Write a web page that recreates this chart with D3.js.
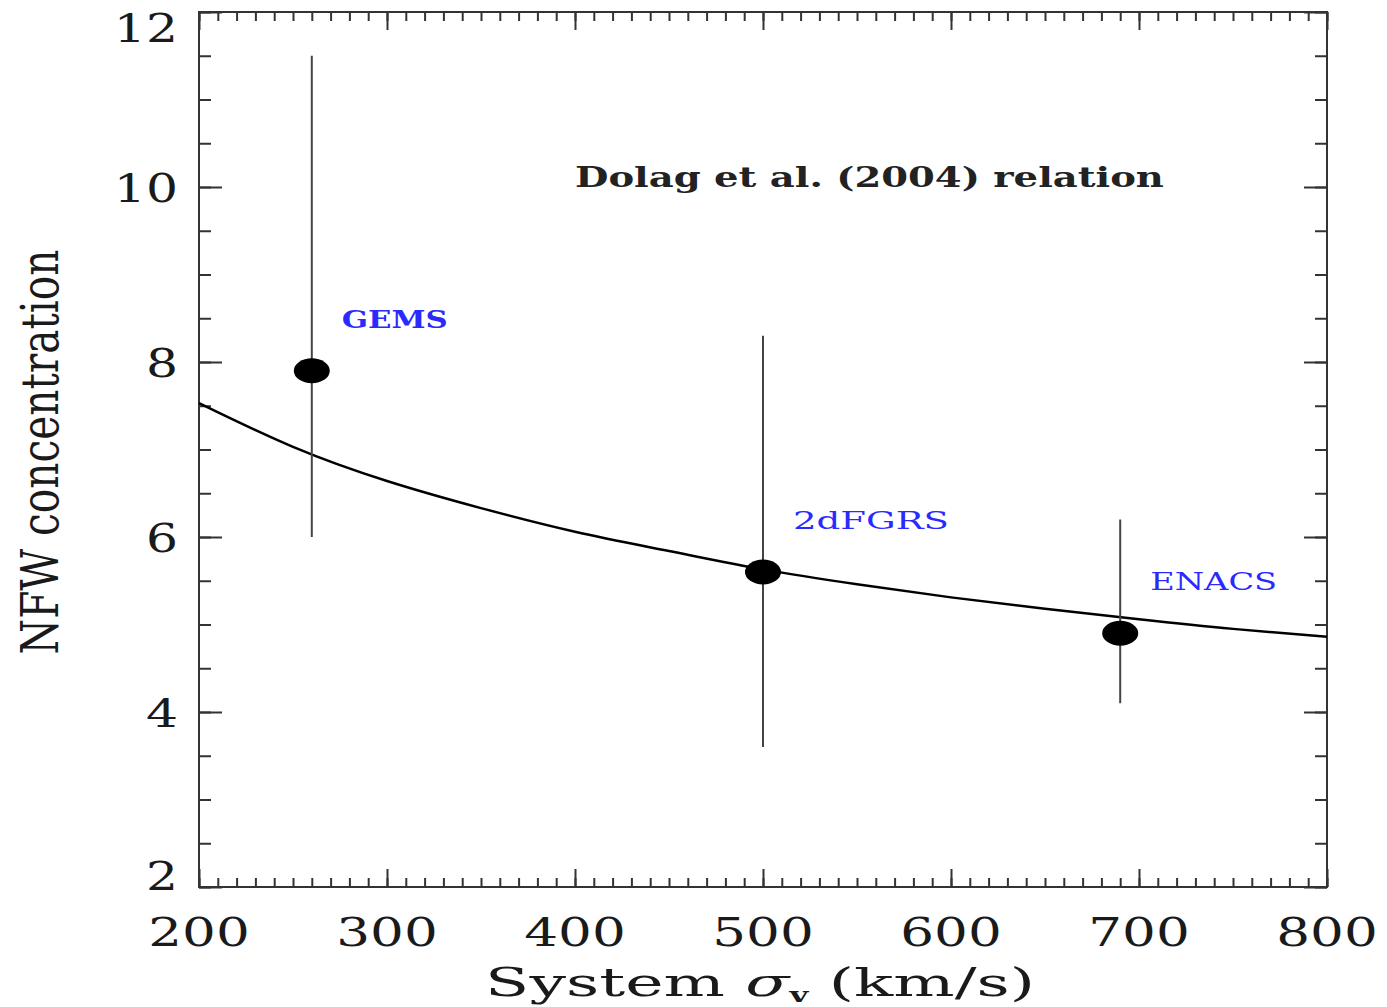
<!DOCTYPE html>
<html>
<head>
<meta charset="utf-8">
<script src="https://cdn.jsdelivr.net/npm/d3@7"></script>
<style>
  body { margin: 0; background: #fff; }
  text { font-family: "DejaVu Serif", serif; }
</style>
</head>
<body>
<svg id="chart" width="1387" height="1007"></svg>
<script>
// survey points with error bars
var surveys = ["GEMS", "2dFGRS", "ENACS"];
var sigma = [260, 500, 690];
var conc = [7.9, 5.6, 4.9];
var concLow = [6.0, 3.6, 4.1];
var concHigh = [11.5, 8.3, 6.2];

// Dolag et al. (2004) relation
var relSigma = [200, 250, 300, 350, 400, 450, 500, 550, 600, 650, 700, 750, 800];
var relConc = [7.53, 7.03, 6.64, 6.33, 6.06, 5.84, 5.63, 5.46, 5.31, 5.18, 5.06, 4.95, 4.86];

var sigmaTicks = [200, 300, 400, 500, 600, 700, 800];
var concTicks = [2, 4, 6, 8, 10, 12];

// note: "top" is taken by window.top
var pLeft = 199, pRight = 1327, pTop = 12, pBottom = 887;

var svg = d3.select("#chart");

var x = d3.scaleLinear()
    .domain([200, 800])
    .range([pLeft, pRight]);

var y = d3.scaleLinear()
    .domain([2, 12])
    .range([pBottom, pTop]);

var minorX = d3.range(200, 801, 10);
var minorY = d3.range(2, 12.01, 0.5);

// ticks on all four sides, pointing inward
function ticks(axis, pos, values, size) {
  svg.append("g")
    .attr("transform", pos)
    .call(axis.tickValues(values).tickSizeInner(size).tickSizeOuter(0).tickFormat(""))
    .call(function(g) { g.select(".domain").remove(); })
    .selectAll("line")
    .attr("stroke", "#333")
    .attr("stroke-width", 2);
}
ticks(d3.axisBottom(x), "translate(0," + pBottom + ")", minorX, -9);
ticks(d3.axisBottom(x), "translate(0," + pBottom + ")", sigmaTicks, -18);
ticks(d3.axisTop(x), "translate(0," + pTop + ")", minorX, -9);
ticks(d3.axisTop(x), "translate(0," + pTop + ")", sigmaTicks, -18);
ticks(d3.axisLeft(y), "translate(" + pLeft + ",0)", minorY, -12);
ticks(d3.axisLeft(y), "translate(" + pLeft + ",0)", concTicks, -23);
ticks(d3.axisRight(y), "translate(" + pRight + ",0)", minorY, -12);
ticks(d3.axisRight(y), "translate(" + pRight + ",0)", concTicks, -23);

svg.append("rect")
    .attr("x", pLeft)
    .attr("y", pTop)
    .attr("width", pRight - pLeft)
    .attr("height", pBottom - pTop)
    .attr("fill", "none")
    .attr("stroke", "#333")
    .attr("stroke-width", 2);

// text stretched sideways like the original
function label(px, py, str, anchor, size, sx, weight, fill) {
  var g = svg.append("g").attr("transform", "translate(" + px + "," + py + ")");
  var t = g.append("text")
      .attr("text-anchor", anchor)
      .attr("transform", "scale(" + sx + ",1)")
      .style("font-size", size + "px")
      .style("font-weight", weight || "normal")
      .attr("fill", fill || "#1a1a1a")
      .text(str);
  return t;
}

sigmaTicks.forEach(function(d) {
  label(x(d), 946, d, "middle", 40, 1.33);
});

concTicks.forEach(function(d) {
  var cy = Math.min(Math.max(y(d), pTop + 15), pBottom - 12);
  label(178, cy + 15, d, "end", 40, 1.26);
});

// x axis title
var xt = svg.append("g").attr("transform", "translate(760,996)")
  .append("text")
    .attr("text-anchor", "middle")
    .style("font-size", "40px")
    .attr("fill", "#1a1a1a");
xt.append("tspan").text("System ");
xt.append("tspan").style("font-style", "italic").text("σ");
xt.append("tspan").attr("dy", 6).style("font-size", "20px").style("font-weight", "bold").text("v");
xt.append("tspan").attr("dy", -6).text(" (km/s)");
var xw = xt.node().getBBox().width;
xt.attr("transform", "scale(" + (550 / xw) + ",1)");

// y axis title
var yt = svg.append("g").attr("transform", "translate(58,452) rotate(-90)")
  .append("text")
    .attr("text-anchor", "middle")
    .style("font-size", "40px")
    .attr("fill", "#1a1a1a")
    .text("NFW concentration");
var yw = yt.node().getBBox().width;
yt.attr("transform", "scale(" + (405 / yw) + ",1.3)");

// relation curve
var line = d3.line()
    .x(function(d, i) { return x(relSigma[i]); })
    .y(function(d) { return y(d); })
    .curve(d3.curveNatural);

svg.append("path")
    .datum(relConc)
    .attr("d", line)
    .attr("fill", "none")
    .attr("stroke", "#000")
    .attr("stroke-width", 2.5);

var dolag = label(x(400), y(10), "Dolag et al. (2004) relation", "start", 27, 1, "bold", "#222");
dolag.attr("transform", "scale(" + (589 / dolag.node().getComputedTextLength()) + ",1)");

// error bars and points
var pts = svg.selectAll(".pt")
    .data(surveys)
    .enter().append("g")
    .attr("class", "pt");

pts.append("line")
    .attr("x1", function(d, i) { return x(sigma[i]); })
    .attr("x2", function(d, i) { return x(sigma[i]); })
    .attr("y1", function(d, i) { return y(concLow[i]); })
    .attr("y2", function(d, i) { return y(concHigh[i]); })
    .attr("stroke", "#444")
    .attr("stroke-width", 2);

pts.append("ellipse")
    .attr("cx", function(d, i) { return x(sigma[i]); })
    .attr("cy", function(d, i) { return y(conc[i]); })
    .attr("rx", 18)
    .attr("ry", 12.5)
    .attr("fill", "#000");

var labelW = [106, 156, 127];
surveys.forEach(function(d, i) {
  var t = label(x(sigma[i]) + 30, y(conc[i]) - 43, d, "start", 24, 1, i == 0 ? "bold" : "normal", "#2a2aff");
  t.attr("transform", "scale(" + (labelW[i] / t.node().getComputedTextLength()) + ",1)");
});
</script>
</body>
</html>
